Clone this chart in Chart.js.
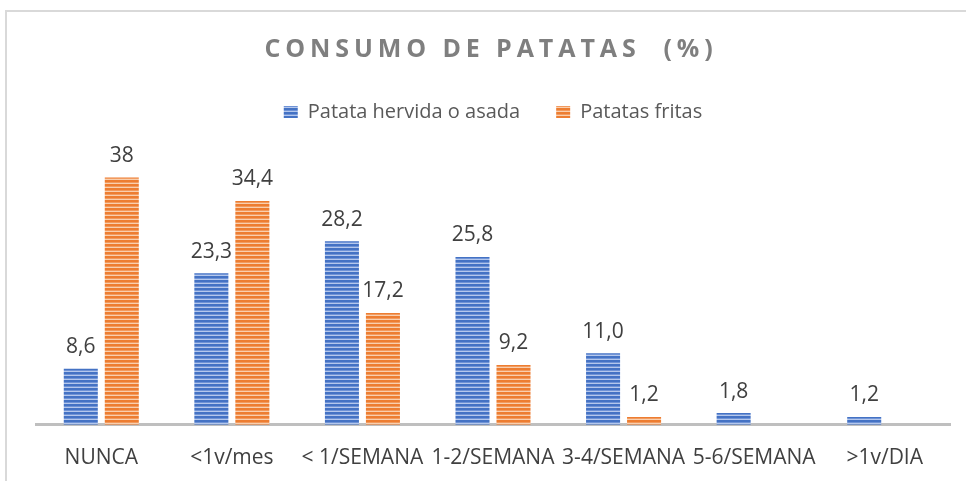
<!DOCTYPE html>
<html>
<head>
<meta charset="utf-8">
<script src="https://cdn.jsdelivr.net/npm/chart.js@4.4.1/dist/chart.umd.min.js"></script>
<style>
  html, body { margin:0; padding:0; background:#fff; width:966px; height:481px; overflow:hidden; }
  #frame { position:absolute; left:5px; top:10px; width:1000px; height:500px; border:2px solid #d9d9d9; box-sizing:border-box; }
  #title { position:absolute; left:8px; top:30px; width:966px; text-align:center; font-family:"Open Sans", sans-serif; font-weight:700; font-size:25px; letter-spacing:4.9px; color:#7f7f7f; white-space:pre; }
  #wrap { position:absolute; left:0; top:0; width:966px; height:481px; overflow:hidden; }
</style>
</head>
<body>
<div id="frame"></div>
<div id="wrap"><canvas id="c" width="966" height="492"></canvas></div>
<div id="title">CONSUMO DE PATATAS  (%)</div>
<script>
const categories = ["NUNCA", "<1v/mes", "< 1/SEMANA", "1-2/SEMANA", "3-4/SEMANA", "5-6/SEMANA", ">1v/DIA"];
const seriesNames = ["Patata hervida o asada", "Patatas fritas"];
const hervida = [8.6, 23.3, 28.2, 25.8, 11.0, 1.8, 1.2];
const fritas = [38, 34.4, 17.2, 9.2, 1.2, null, null];
const hervidaDecimals = 1;

function stripes(dark, mid, light) {
  const p = document.createElement('canvas');
  p.width = 4; p.height = 4;
  const g = p.getContext('2d');
  g.fillStyle = dark; g.fillRect(0, 0, 4, 2);
  g.fillStyle = mid; g.fillRect(0, 2, 4, 1);
  g.fillStyle = light; g.fillRect(0, 3, 4, 1);
  return document.getElementById('c').getContext('2d').createPattern(p, 'repeat');
}
const bluePat = stripes('#4472C4', '#6f93d6', '#b4c7ec');
const orangePat = stripes('#ED7D31', '#f29a5e', '#f9cfae');

const valueLabels = {
  id: 'valueLabels',
  afterDatasetsDraw(chart) {
    const ctx = chart.ctx;
    ctx.save();
    ctx.font = '21px "Open Sans", sans-serif';
    ctx.fillStyle = '#404040';
    ctx.textAlign = 'center';
    ctx.textBaseline = 'bottom';
    chart.data.datasets.forEach((ds, di) => {
      const meta = chart.getDatasetMeta(di);
      meta.data.forEach((el, i) => {
        const v = ds.data[i];
        if (v === null || v === undefined) return;
        const txt = di === 0 ? v.toFixed(hervidaDecimals).replace('.', ',') : String(v).replace('.', ',');
        ctx.fillText(txt, el.x, el.y - 11);
      });
    });
    ctx.restore();
  }
};

new Chart(document.getElementById('c'), {
  type: 'bar',
  data: {
    labels: categories,
    datasets: [
      { label: seriesNames[0], data: hervida, backgroundColor: bluePat, borderWidth: 0 },
      { label: seriesNames[1], data: fritas, backgroundColor: orangePat, borderWidth: 0 }
    ]
  },
  options: {
    responsive: false,
    animation: false,
    devicePixelRatio: 1,
    layout: { padding: { left: 36, right: 16, top: 66, bottom: 0 } },
    datasets: { bar: { categoryPercentage: 0.628, barPercentage: 0.83 } },
    plugins: {
      legend: {
        display: true,
        position: 'top',
        labels: {
          boxWidth: 14, boxHeight: 12, padding: 36,
          color: '#595959',
          font: { family: '"Open Sans", sans-serif', size: 20 }
        }
      },
      title: { display: false },
      tooltip: { enabled: false }
    },
    scales: {
      x: {
        grid: { display: false, drawTicks: false },
        border: { display: true, color: '#bfbfbf', width: 3 },
        ticks: { color: '#404040', padding: 21, maxRotation: 0, autoSkip: false,
                 font: { family: '"Open Sans", sans-serif', size: 21 } }
      },
      y: { display: false, min: 0, max: 45 }
    }
  },
  plugins: [valueLabels]
});
</script>
</body>
</html>
